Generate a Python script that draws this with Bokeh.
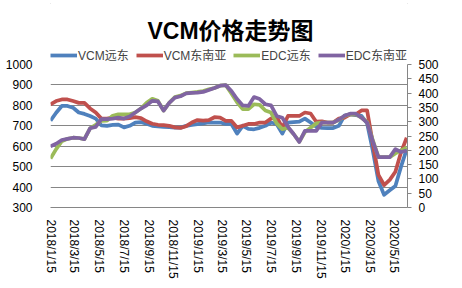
import pandas as pd
from bokeh.plotting import figure
from bokeh.models import (Range1d, LinearAxis, FixedTicker,
                          CustomJSTickFormatter, Legend, LegendItem, Label)
from bokeh.embed import file_html
from bokeh.resources import INLINE

# ---- data ----
dates = pd.date_range("2018-01-15", periods=64, freq="14D")

tick_dates = ["2018-01-15", "2018-03-15", "2018-05-15", "2018-07-15", "2018-09-15",
              "2018-11-15", "2019-01-15", "2019-03-15", "2019-05-15", "2019-07-15",
              "2019-09-15", "2019-11-15", "2020-01-15", "2020-03-15", "2020-05-15"]

left_ticks = [300, 400, 500, 600, 700, 800, 900, 1000]
right_ticks = [0, 50, 100, 150, 200, 250, 300, 350, 400, 450, 500]

series_names = ["VCM远东", "VCM东南亚", "EDC远东", "EDC东南亚"]

# left axis (VCM)
vcm_fe = [725, 764, 797, 797, 788, 765, 758, 748, 735, 702,
          700, 704, 706, 692, 700, 716, 718, 710, 700, 697,
          695, 694, 691, 691, 700, 704, 708, 712, 716, 716,
          716, 709, 709, 662, 700, 685, 683, 690, 700, 716,
          709, 662, 716, 718, 720, 735, 716, 695, 690, 689,
          689, 700, 750, 756, 752, 748, 712, 580, 430, 362,
          384, 405, 500, 585]

vcm_sea = [805, 821, 829, 829, 821, 812, 812, 785, 765, 735,
           735, 740, 735, 735, 738, 742, 738, 722, 710, 705,
           703, 700, 692, 690, 698, 716, 728, 725, 728, 742,
           740, 724, 724, 692, 700, 709, 709, 716, 716, 735,
           743, 691, 748, 748, 748, 765, 760, 720, 722, 716,
           716, 735, 740, 756, 756, 775, 775, 615, 460, 410,
           435, 475, 570, 642]

# right axis (EDC)
edc_fe = [171, 204, 232, 240, 244, 243, 239, 277, 289, 303,
          304, 321, 326, 326, 326, 332, 346, 366, 380, 373,
          339, 366, 386, 391, 400, 402, 404, 407, 413, 418,
          426, 428, 399, 368, 344, 344, 361, 359, 339, 332,
          294, 274, 279, 257, 230, 264, 279, 294, 297, 297,
          297, 306, 320, 326, 326, 314, 299, 236, 176, 176,
          176, 189, 200, 210]

edc_sea = [214, 223, 236, 240, 244, 243, 239, 277, 282, 309,
           309, 311, 314, 311, 318, 332, 346, 357, 373, 371,
           339, 366, 384, 389, 399, 401, 402, 404, 411, 418,
           426, 428, 407, 379, 357, 355, 386, 379, 361, 357,
           320, 314, 282, 257, 229, 268, 268, 268, 297, 297,
           297, 307, 321, 328, 328, 314, 297, 232, 176, 176,
           176, 204, 194, 199]

colors = ["#4F81BD", "#C0504D", "#9BBB59", "#8064A2"]

FONT = "Liberation Sans, Noto Sans CJK SC"
GRID = "#868686"

# frame spans canvas top .. x-axis; value scale: 300..1000 over 143 px, top of frame 64 px above 1000
LEFT_TOP = 1000 + 64 * 700 / 143
RIGHT_TOP = 500 + 64 * 500 / 143

p = figure(width=462, height=288, x_axis_type="datetime",
           x_range=Range1d(pd.Timestamp("2018-01-15"), pd.Timestamp("2020-06-17")),
           y_range=Range1d(300, LEFT_TOP),
           output_backend="svg", toolbar_location=None, title=None,
           min_border_left=50, min_border_right=55,
           min_border_top=0, min_border_bottom=81)
p.background_fill_color = "white"
p.border_fill_color = "white"
p.outline_line_color = None
p.styles = {"outline": "1px solid #A6A6A6", "outline-offset": "-4px",
            "border-radius": "7px"}

p.extra_y_ranges = {"edc": Range1d(0, RIGHT_TOP)}

# left axis
yl = p.yaxis[0]
yl.ticker = FixedTicker(ticks=left_ticks)
yl.bounds = (300, 1000)
yl.axis_line_color = None
yl.major_tick_line_color = None
yl.minor_tick_line_color = None
yl.major_label_standoff = 12
yl.major_label_text_font = FONT
yl.major_label_text_font_size = "12px"
yl.major_label_text_color = "#000000"

# right axis
yr = LinearAxis(y_range_name="edc", ticker=FixedTicker(ticks=right_ticks), bounds=(0, 500))
yr.axis_line_color = GRID
yr.major_tick_line_color = GRID
yr.major_tick_in = 0
yr.major_tick_out = 4
yr.minor_tick_line_color = None
yr.major_label_standoff = 7
yr.major_label_text_font = FONT
yr.major_label_text_font_size = "12px"
yr.major_label_text_color = "#000000"
p.add_layout(yr, "right")

# bottom axis
xa = p.xaxis[0]
xa.ticker = FixedTicker(ticks=[pd.Timestamp(d).value / 1e6 for d in tick_dates])
xa.formatter = CustomJSTickFormatter(code="""
const d = new Date(tick);
return d.getUTCFullYear() + "/" + (d.getUTCMonth() + 1) + "/" + d.getUTCDate();
""")
xa.major_label_orientation = "vertical"
xa.axis_line_color = GRID
xa.major_tick_line_color = None
xa.minor_tick_line_color = None
xa.major_label_standoff = 6
xa.major_label_text_font = FONT
xa.major_label_text_font_size = "12px"
xa.major_label_text_color = "#000000"

p.xgrid.grid_line_color = None
p.ygrid.ticker = FixedTicker(ticks=left_ticks[:-1])
p.ygrid.grid_line_color = GRID
p.ygrid.grid_line_width = 1

r1 = p.line(dates, vcm_fe, line_color=colors[0], line_width=3.75, line_join="round")
r2 = p.line(dates, vcm_sea, line_color=colors[1], line_width=3.75, line_join="round")
r3 = p.line(dates, edc_fe, line_color=colors[2], line_width=3.75, line_join="round",
            y_range_name="edc")
r4 = p.line(dates, edc_sea, line_color=colors[3], line_width=3.75, line_join="round",
            y_range_name="edc")
renderers = [r1, r2, r3, r4]

legend = Legend(items=[LegendItem(label=n, renderers=[r]) for n, r in zip(series_names, renderers)],
                orientation="horizontal", location=(0, 144),
                padding=0, margin=0, spacing=7, glyph_width=27, glyph_height=12,
                label_standoff=1, label_height=12,
                label_text_font=FONT, label_text_font_size="12px",
                border_line_color=None, background_fill_alpha=0)
p.add_layout(legend, "center")

title = Label(x=180, y=177, x_units="screen", y_units="screen", text="VCM价格走势图",
              text_align="center", text_baseline="middle",
              text_font=FONT, text_font_size="23px", text_font_style="bold",
              text_color="#000000")
p.add_layout(title)

open("out.html", "w").write(file_html(p, INLINE))
